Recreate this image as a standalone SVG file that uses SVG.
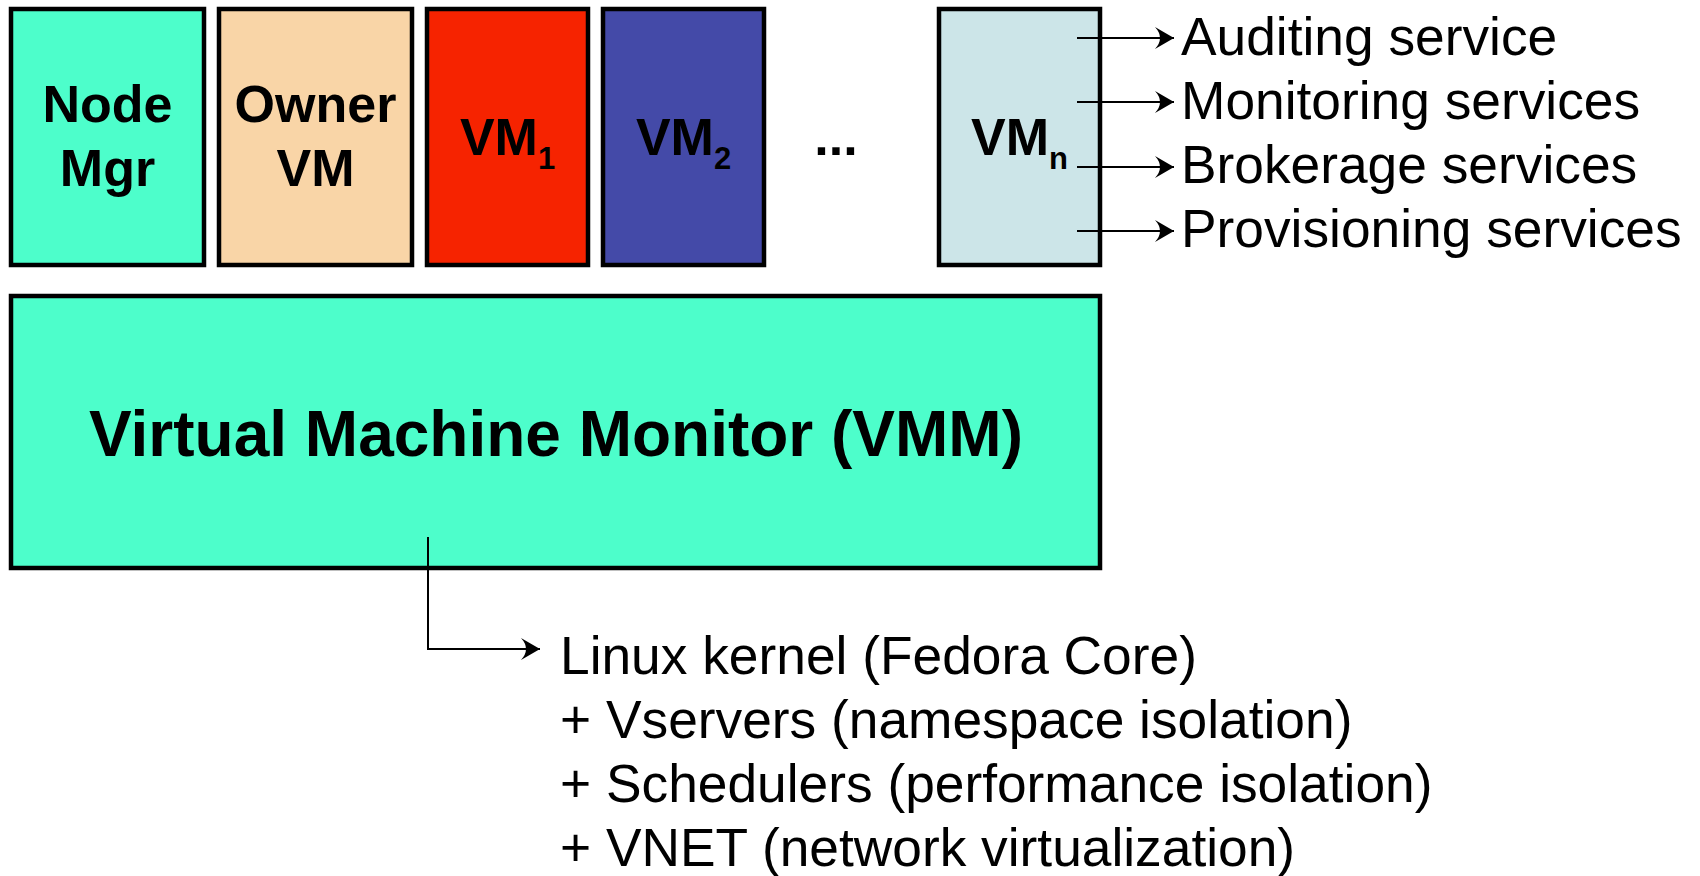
<svg xmlns="http://www.w3.org/2000/svg" width="1700" height="876" viewBox="0 0 1700 876">
<defs>
<style>
.box{stroke:#000;stroke-width:4.5}
.bl{font-family:"Liberation Sans",Arial,sans-serif;font-weight:bold;font-size:52px;fill:#000;text-anchor:middle}
.sub{font-size:31px}
.lbl{font-family:"Liberation Sans",Arial,sans-serif;font-size:53.3px;fill:#000}
.conn{fill:none;stroke:#000;stroke-width:2}
</style>
<marker id="ah" markerUnits="userSpaceOnUse" markerWidth="22" markerHeight="24" viewBox="-20 -12 22 24" refX="0" refY="0" orient="auto">
<path d="M0,0 L-19,-11 Q-9,0 -19,11 Z" fill="#000"/>
</marker>
</defs>
<rect width="1700" height="876" fill="#fff"/>
<g id="node-mgr">
<rect class="box" x="11" y="9" width="193" height="256" fill="#4dfecb"/>
<text class="bl" x="107.5" y="122">Node</text>
<text class="bl" x="107.5" y="186">Mgr</text>
</g>
<g id="owner-vm">
<rect class="box" x="219" y="9" width="193" height="256" fill="#f9d5a7"/>
<text class="bl" x="315.5" y="122">Owner</text>
<text class="bl" x="315.5" y="186">VM</text>
</g>
<g id="vm1">
<rect class="box" x="427" y="9" width="161" height="256" fill="#f62300"/>
<text class="bl" x="507.5" y="155">VM<tspan class="sub" dy="14">1</tspan></text>
</g>
<g id="vm2">
<rect class="box" x="603" y="9" width="161" height="256" fill="#444aa8"/>
<text class="bl" x="683.5" y="155">VM<tspan class="sub" dy="14">2</tspan></text>
</g>
<g id="ellipsis">
<text class="bl" x="836" y="155">...</text>
</g>
<g id="vmn">
<rect class="box" x="939" y="9" width="161" height="256" fill="#cce5e8"/>
<text class="bl" x="1019.5" y="155">VM<tspan class="sub" dy="14">n</tspan></text>
</g>
<g id="vmm">
<rect class="box" x="11" y="296" width="1089" height="272" fill="#4dfecb"/>
<text class="bl" x="556" y="456" style="font-size:64px">Virtual Machine Monitor (VMM)</text>
</g>
<g id="connectors">
<line class="conn" x1="1077" y1="38" x2="1174" y2="38" marker-end="url(#ah)"/>
<line class="conn" x1="1077" y1="102" x2="1174" y2="102" marker-end="url(#ah)"/>
<line class="conn" x1="1077" y1="167" x2="1174" y2="167" marker-end="url(#ah)"/>
<line class="conn" x1="1077" y1="231" x2="1174" y2="231" marker-end="url(#ah)"/>
<polyline class="conn" points="428,537 428,649 540,649" marker-end="url(#ah)"/>
</g>
<g id="service-labels">
<text class="lbl" x="1181" y="55">Auditing service</text>
<text class="lbl" x="1181" y="119">Monitoring services</text>
<text class="lbl" x="1181" y="183">Brokerage services</text>
<text class="lbl" x="1181" y="247">Provisioning services</text>
</g>
<g id="kernel-labels">
<text class="lbl" x="560" y="674">Linux kernel (Fedora Core)</text>
<text class="lbl" x="560" y="738">+ Vservers (namespace isolation)</text>
<text class="lbl" x="560" y="802">+ Schedulers (performance isolation)</text>
<text class="lbl" x="560" y="866">+ VNET (network virtualization)</text>
</g>
</svg>
